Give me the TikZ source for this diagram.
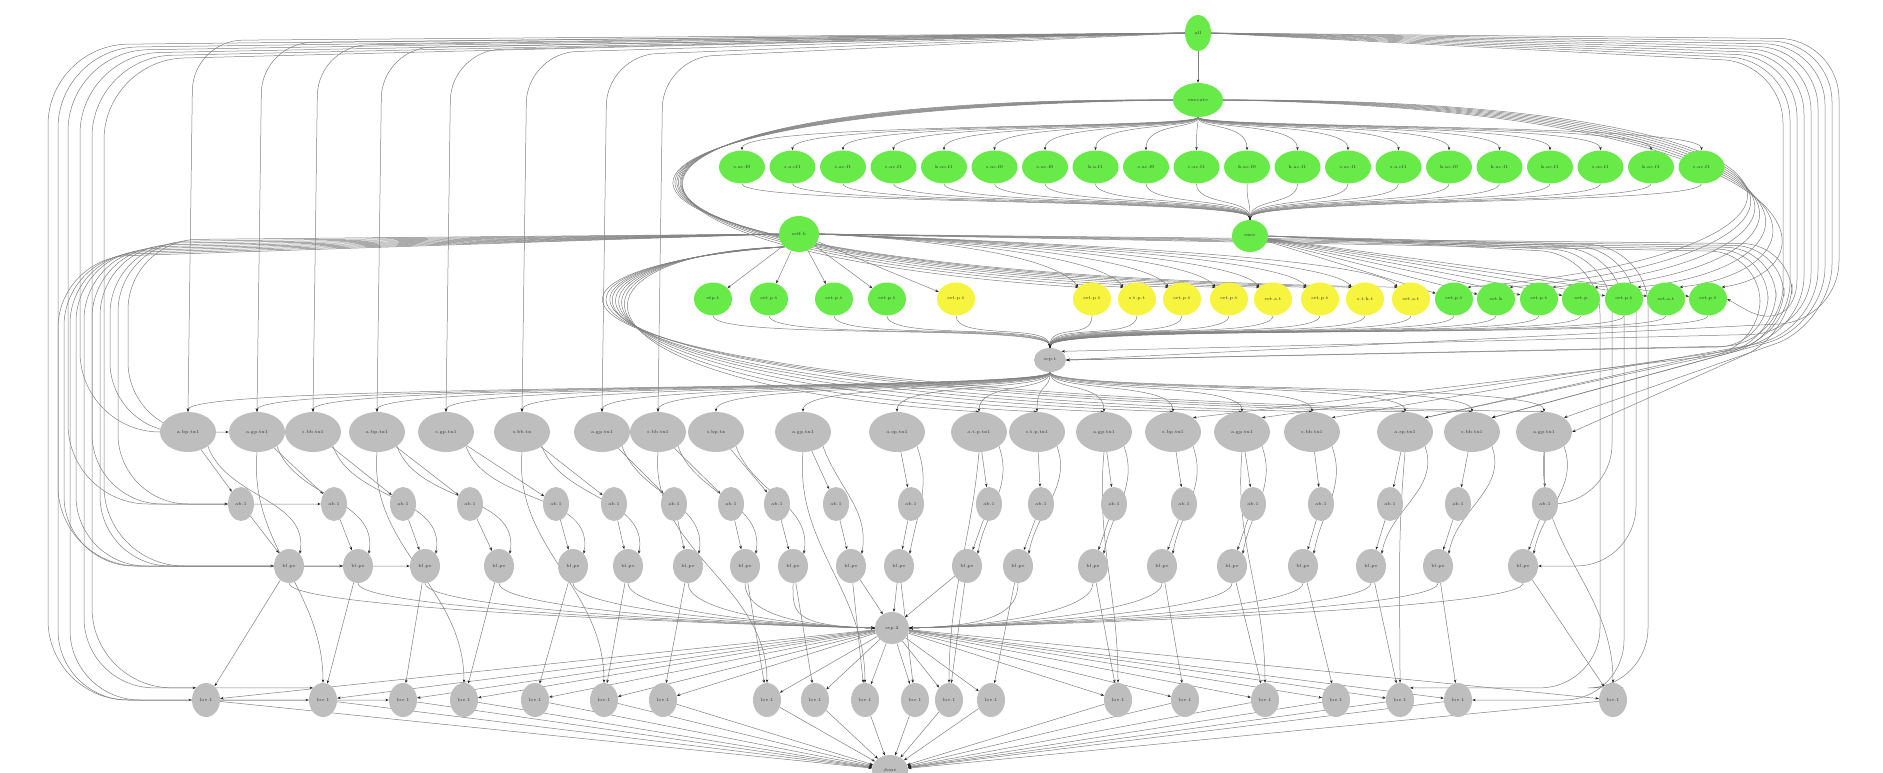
\documentclass[tikz,border=0pt]{standalone}
\usetikzlibrary{shapes.geometric,arrows.meta,calc,backgrounds}
\definecolor{ngreen}{RGB}{104,234,72}
\definecolor{nyellow}{RGB}{246,244,62}
\definecolor{ngray}{RGB}{190,190,190}
\tikzset{
  nbase/.style={ellipse,inner sep=0pt,font=\fontsize{4.5}{5}\selectfont,text=black!80},
  topn/.style={nbase,fill=ngreen,minimum width=26pt,minimum height=36pt},
  exen/.style={nbase,fill=ngreen,minimum width=50pt,minimum height=34pt},
  g3n/.style={nbase,fill=ngreen,minimum width=46pt,minimum height=33pt},
  midn/.style={nbase,fill=ngreen,minimum width=36pt,minimum height=32pt},
  r4g/.style={nbase,fill=ngreen,minimum width=38pt,minimum height=33pt},
  r4y/.style={nbase,fill=nyellow,minimum width=38pt,minimum height=33pt},
  r5n/.style={nbase,fill=ngray,minimum width=56pt,minimum height=40pt},
  r6n/.style={nbase,fill=ngray,minimum width=26pt,minimum height=34pt},
  r7n/.style={nbase,fill=ngray,minimum width=30pt,minimum height=34pt},
  r8n/.style={nbase,fill=ngray,minimum width=28pt,minimum height=34pt},
  sepn/.style={nbase,fill=ngray,minimum width=32pt,minimum height=24pt},
  edg/.style={draw=black!50,line width=0.5pt,-{Stealth[length=3.5pt,width=2.6pt,color=black!85]}},
}
\begin{document}
\begin{tikzpicture}[x=1pt,y=-1pt]
\useasboundingbox (0,0) rectangle (1883,773);
% ---------- nodes ----------
\node[topn] (all) at (1198,33) {all};
\node[exen] (execute) at (1198,100) {execute};
\foreach \l [count=\i] in {s.ac.f0,s.a.cf1,s.ac.f1,c.ac.f1,k.ac.f1,s.ac.f0,s.ac.f0,k.a.f1,s.ac.f0,c.ac.f1,k.ac.f0,k.ac.f1,s.ac.f1,s.a.cf1,k.ac.f0,k.ac.f1,k.ac.f1,s.ac.f1,k.ac.f1,c.ac.f1}{
  \pgfmathsetmacro\xx{742+50.5*(\i-1)}
  \node[g3n] (g\i) at (\xx,167) {\l};
}
\node[midn] (exec) at (1250,236) {exec};
\node[midn,minimum width=40pt,minimum height=36pt] (selfb) at (799,234) {self.b};
\foreach \x/\l [count=\i] in {713/stp.t,769/set.p.t,834/set.p.t,887/set.p.t,956/set.p.t,1092/set.p.t,1137/s.t.p.t,1182/set.p.t,1229/set.p.t,1273/set.a.t,1320/set.p.t,1365/s.t.k.t,1411/set.a.t,1454/set.p.t,1496/set.k,1539/set.p.t,1581/set.p,1624/set.p.t,1666/set.a.t,1708/set.p.t}{
  \ifnum\i<5 \def\cc{r4g}\else\ifnum\i<14 \def\cc{r4y}\else\def\cc{r4g}\fi\fi
  \node[\cc] (f\i) at (\x,299) {\l};
}
\node[sepn] (sept) at (1050,360) {sep.t};
\foreach \x/\l [count=\i] in {188/a.bp.tx1,257/a.gp.tx1,313/s.bb.tx1,377/a.bp.tx1,446/s.gp.tx1,522/s.bb.tx,602/a.gp.tx1,658/s.bb.tx1,716/s.bp.tx,803/a.gp.tx1,897/a.sp.tx1,979/a.t.p.tx1,1037/s.t.p.tx1,1104/a.gp.tx1,1173/s.bp.tx1,1242/a.gp.tx1,1312/s.bb.tx1,1405/a.sp.tx1,1472/s.bb.tx1,1544/a.gp.tx1}{
  \node[r5n] (a\i) at (\x,432) {\l};
}
\foreach \x [count=\i] in {241,334,403,470,556,614,674,731,777,836,911,989,1041,1114,1184,1253,1321,1390,1458,1545}{
  \node[r6n] (b\i) at (\x,504) {ab.1};
}
\foreach \x [count=\i] in {289,358,425,499,573,628,688,745,793,851,899,967,1018,1093,1162,1232,1303,1371,1438,1523}{
  \node[r7n] (c\i) at (\x,566) {bl.pe};
}
\node[sepn,minimum width=34pt,minimum height=32pt] (sep2) at (892,628) {sep.2};
\foreach \x [count=\i] in {206,323,403,464,535,604,663,767,815,865,915,949,991,1118,1185,1265,1336,1400,1458,1613}{
  \node[r8n] (d\i) at (\x,700) {loe.1};
}
\node[sepn,minimum width=36pt,minimum height=30pt] (bottom) at (890,770) {done};
% ---------- edges ----------
\begin{pgfonlayer}{background}
\draw[edg] (all) -- (execute);
\foreach \i in {1,...,20}{
  \draw[edg] (execute.south) .. controls ($(execute.south)+(0,12)$) and ($(g\i.north)+(0,-28)$) .. (g\i.north);
  \draw[edg] (g\i.south) .. controls ($(g\i.south)+(0,22)$) and ($(exec.north)+(0,-22)$) .. (exec.north);
}
% all: top bundle to the left
\foreach \i/\x [count=\k] in {1/188,2/257,3/313,4/377,5/446,6/522,7/602,8/658}{
  \draw[edg,rounded corners=50pt] (all.west) -- ({\x+5},{38+2.5*\k}) -- (a\i.north);
}
% all: far left loops
\foreach \t/\cx [count=\k] in {d1.west/48,c1.west/58,b1.west/68,a1.west/80,d2.north west/92,c2.west/104}{
  \draw[edg,rounded corners=80pt] (all.west) -- (\cx,{42+3*\k}) -- (\cx,0 |- \t) -- (\t);
}
% all: right loops
\foreach \t [count=\k] in {sept.east,a20.north east,a19.north east,a18.north east,sept.north east,a17.north east,f20.east,a16.north east,sept.east}{
  \pgfmathsetmacro\cx{1846-7*\k}
  \draw[edg,rounded corners=60pt] (all.east) -- (\cx,{36+3*\k}) -- (\cx,{318+3*\k}) -- (\t);
}
% execute: rings round the row
\foreach \j [count=\k] in {6,...,13}{
  \pgfmathsetmacro\cx{545-9*\k}
  \draw[edg] (execute.west) .. controls (\cx,{94+2*\k}) and (\cx,{248+3*\k}) .. (f\j.north west);
}
\foreach \j [count=\k] in {14,...,20}{
  \pgfmathsetmacro\cx{1880-6*\k}
  \draw[edg] (execute.east) .. controls (\cx,{96+2*\k}) and (\cx,{250+3*\k}) .. (f\j.north east);
}
% self.b
\foreach \j in {1,...,5}{\draw[edg] (selfb) -- (f\j);}
\foreach \j in {6,...,13}{
  \draw[edg] (selfb.east) .. controls ($(selfb.east)+(90,4)$) and ($(f\j.north)+(-40,-30)$) .. (f\j.north west);
}
\foreach \j in {14,...,20}{\draw[edg] (exec) -- (f\j);}
\foreach \t/\cx [count=\k] in {a1.west/128,b1.west/118,a2.west/110,c1.west/100,b2.west/92,d1.north west/84,c2.west/76,d2.west/70,c3.west/64,d3.west/58}{
  \draw[edg,rounded corners=70pt] (selfb.west) -- (\cx,{238+2*\k}) -- (\cx,0 |- \t) -- (\t);
}
\foreach \j [count=\k] in {12,...,20}{
  \pgfmathsetmacro\cx{560-10*\k}
  \draw[edg] (selfb.south west) .. controls (\cx,{252+2*\k}) and (\cx,{384+\k}) .. (a\j.north);
}
\foreach \t [count=\k] in {a20.east,a19.north east,a18.north east,sept.east,a15.north east}{
  \pgfmathsetmacro\cx{1800-8*\k}
  \draw[edg,rounded corners=50pt] (selfb.east) -- (\cx,{242+2*\k}) -- (\cx,{330+4*\k}) -- (\t);
}
% exec: right loops to lower rows
\foreach \t [count=\k] in {d20.north east,c20.east,d19.east,b20.east,d18.north east}{
  \pgfmathsetmacro\cx{1660-12*\k}
  \draw[edg,rounded corners=60pt] (exec.east) -- (\cx,{244+2*\k}) -- (\cx,0 |- \t) -- (\t);
}
% row 4 -> sep.t
\foreach \j in {1,...,20}{
  \draw[edg] (f\j.south) .. controls ($(f\j.south)+(0,25)$) and ($(sept.north)+(0,-25)$) .. (sept.north);
}
% sep.t -> row 5
\foreach \i in {1,...,20}{
  \draw[edg] (sept.south) .. controls (1050,392) and ($(a\i.north)+(0,-30)$) .. (a\i.north);
}
% lower rows
\foreach \i in {1,...,20}{
  \draw[edg] (a\i) -- (b\i);
  \draw[edg] (b\i) -- (c\i);
  \draw[edg] (a\i.south east) to[out=-70,in=80] (c\i.north east);
  \draw[edg] (c\i) -- (d\i);
  \draw[edg] (sep2) -- (d\i);
  \draw[edg] (d\i) -- (bottom);
}
\foreach \i in {2,4,...,20}{
  \draw[edg] (a\i.south) to[out=-95,in=90] (d\i.north);
}
\foreach \i in {1,...,9}{
  \draw[edg] (c\i.south) .. controls ($(c\i.south)+(0,28)$) and (790,626) .. (sep2.west);
}
\foreach \i in {10,11,12}{\draw[edg] (c\i) -- (sep2);}
\foreach \i in {13,...,20}{
  \draw[edg] (c\i.south) .. controls ($(c\i.south)+(0,28)$) and (995,626) .. (sep2.east);
}
\end{pgfonlayer}
\end{tikzpicture}
\end{document}
